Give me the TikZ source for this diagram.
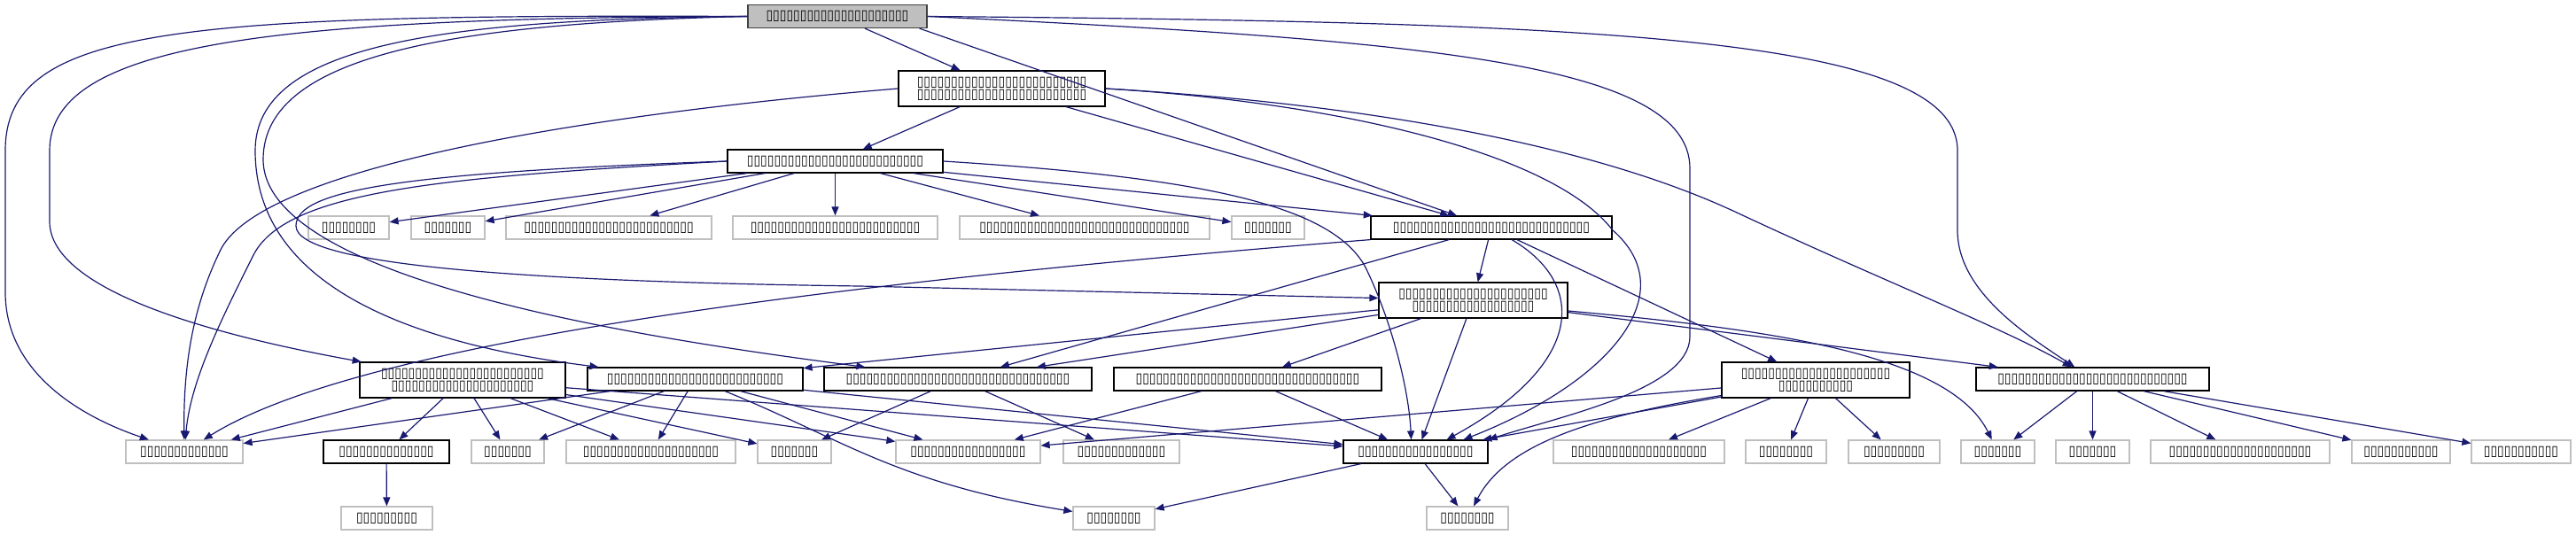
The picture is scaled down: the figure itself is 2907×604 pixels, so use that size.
\documentclass[tikz,border=0pt]{standalone}
\usepackage{fontspec}
\usepackage{tikz}
\usetikzlibrary{arrows.meta, calc}
\newfontfamily\tofufont[FakeStretch=0.87]{DejaVu Sans}
\definecolor{edgeBlue}{RGB}{25,25,112}
\definecolor{boxGrey}{RGB}{191,191,191}
\definecolor{rootLine}{RGB}{64,64,64}
\begin{document}
\begin{tikzpicture}[x=0.5pt, y=-0.5pt,
    file/.style={rectangle, draw, line width=0.6pt, inner sep=0pt, minimum height=13pt, align=center, font=\fontsize{8}{7}\tofufont},
    doc/.style={file, draw=black, fill=white},
    sys/.style={file, draw=boxGrey, fill=white},
    top/.style={file, draw=rootLine, fill=boxGrey},
    tall/.style={minimum height=20pt},
    arrow/.style={-{Triangle[length=5pt, width=4pt]}, draw=edgeBlue, line width=0.6pt}
]
    \useasboundingbox (0,0) rectangle (2907,604);

    % Top file
    \node[top, minimum width=101pt] (main) at (945,18.5) {▯▯▯▯▯▯▯▯▯▯▯▯▯▯▯▯▯▯▯▯▯};

    % Second level
    \node[doc, tall, minimum width=116.5pt] (n2) at (1130.5,100) {▯▯▯▯▯▯▯▯▯▯▯▯▯▯▯▯▯▯▯▯▯▯▯▯▯\\▯▯▯▯▯▯▯▯▯▯▯▯▯▯▯▯▯▯▯▯▯▯▯▯▯};
    \node[doc, minimum width=121.5pt] (n3) at (942.5,182) {▯▯▯▯▯▯▯▯▯▯▯▯▯▯▯▯▯▯▯▯▯▯▯▯▯▯};

    % Third level
    \node[sys, minimum width=45.5pt] (a1) at (393.5,257) {▯▯▯▯▯▯▯▯};
    \node[sys, minimum width=41.5pt] (a2) at (505.5,257) {▯▯▯▯▯▯▯};
    \node[sys, minimum width=116pt] (a3) at (687,257) {▯▯▯▯▯▯▯▯▯▯▯▯▯▯▯▯▯▯▯▯▯▯▯▯▯};
    \node[sys, minimum width=115.5pt] (a4) at (942.5,257) {▯▯▯▯▯▯▯▯▯▯▯▯▯▯▯▯▯▯▯▯▯▯▯▯▯};
    \node[sys, minimum width=141pt] (a5) at (1224,257) {▯▯▯▯▯▯▯▯▯▯▯▯▯▯▯▯▯▯▯▯▯▯▯▯▯▯▯▯▯▯▯};
    \node[sys, minimum width=41pt] (a6) at (1431,257) {▯▯▯▯▯▯▯};
    \node[doc, minimum width=136pt] (util) at (1683,257) {▯▯▯▯▯▯▯▯▯▯▯▯▯▯▯▯▯▯▯▯▯▯▯▯▯▯▯▯▯};
    \node[doc, tall, minimum width=106.5pt] (types) at (1662.5,339) {▯▯▯▯▯▯▯▯▯▯▯▯▯▯▯▯▯▯▯▯▯▯\\▯▯▯▯▯▯▯▯▯▯▯▯▯▯▯▯▯▯};

    % Fourth level
    \node[doc, tall, minimum width=116pt] (n9) at (522,429) {▯▯▯▯▯▯▯▯▯▯▯▯▯▯▯▯▯▯▯▯▯▯▯▯\\▯▯▯▯▯▯▯▯▯▯▯▯▯▯▯▯▯▯▯▯▯};
    \node[doc, minimum width=121.5pt] (n6) at (784.5,428) {▯▯▯▯▯▯▯▯▯▯▯▯▯▯▯▯▯▯▯▯▯▯▯▯▯▯};
    \node[doc, minimum width=151pt] (n7) at (1081,428) {▯▯▯▯▯▯▯▯▯▯▯▯▯▯▯▯▯▯▯▯▯▯▯▯▯▯▯▯▯▯▯▯▯};
    \node[doc, minimum width=151pt] (n8) at (1408,428) {▯▯▯▯▯▯▯▯▯▯▯▯▯▯▯▯▯▯▯▯▯▯▯▯▯▯▯▯▯▯▯▯▯};
    \node[doc, tall, minimum width=106pt] (n10) at (2049,429) {▯▯▯▯▯▯▯▯▯▯▯▯▯▯▯▯▯▯▯▯▯▯\\▯▯▯▯▯▯▯▯▯▯▯};
    \node[doc, minimum width=131.5pt] (n11) at (2361.5,428) {▯▯▯▯▯▯▯▯▯▯▯▯▯▯▯▯▯▯▯▯▯▯▯▯▯▯▯▯};

    % Fifth level
    \node[sys, minimum width=66pt] (b1) at (208,510) {▯▯▯▯▯▯▯▯▯▯▯▯▯};
    \node[doc, minimum width=71pt] (n12) at (436,510) {▯▯▯▯▯▯▯▯▯▯▯▯▯▯};
    \node[sys, minimum width=41pt] (b2) at (573,510) {▯▯▯▯▯▯▯};
    \node[sys, minimum width=95.5pt] (b3) at (734.5,510) {▯▯▯▯▯▯▯▯▯▯▯▯▯▯▯▯▯▯▯▯};
    \node[sys, minimum width=41.5pt] (b4) at (896.5,510) {▯▯▯▯▯▯▯};
    \node[sys, minimum width=81.5pt] (b5) at (1092.5,510) {▯▯▯▯▯▯▯▯▯▯▯▯▯▯▯▯▯};
    \node[sys, minimum width=65.5pt] (b6) at (1265.5,510) {▯▯▯▯▯▯▯▯▯▯▯▯▯};
    \node[doc, minimum width=81.5pt] (n13) at (1597.5,510) {▯▯▯▯▯▯▯▯▯▯▯▯▯▯▯▯▯};
    \node[sys, minimum width=96.5pt] (b7) at (1849.5,510) {▯▯▯▯▯▯▯▯▯▯▯▯▯▯▯▯▯▯▯▯};
    \node[sys, minimum width=45.5pt] (b10) at (2015.5,510) {▯▯▯▯▯▯▯▯};
    \node[sys, minimum width=51.5pt] (b11) at (2137.5,510) {▯▯▯▯▯▯▯▯▯};
    \node[sys, minimum width=41.5pt] (b12) at (2254.5,510) {▯▯▯▯▯▯▯};
    \node[sys, minimum width=41.5pt] (b14) at (2361.5,510) {▯▯▯▯▯▯▯};
    \node[sys, minimum width=101pt] (b15) at (2528,510) {▯▯▯▯▯▯▯▯▯▯▯▯▯▯▯▯▯▯▯▯▯};
    \node[sys, minimum width=55.5pt] (b16) at (2709.5,510) {▯▯▯▯▯▯▯▯▯▯▯};
    \node[sys, minimum width=56pt] (b17) at (2845,510) {▯▯▯▯▯▯▯▯▯▯▯};

    % Bottom level
    \node[sys, minimum width=51.5pt] (b13) at (436.5,585) {▯▯▯▯▯▯▯▯▯};
    \node[sys, minimum width=46pt] (b8) at (1257,585) {▯▯▯▯▯▯▯▯};
    \node[sys, minimum width=46pt] (b9) at (1656,585) {▯▯▯▯▯▯▯▯};

    % Arrows - top file
    \draw[arrow] (main) -- (n2);
    \draw[arrow] ($(main.south east)+(-9,0)$) -- (util);
    \draw[arrow] (main.west) .. controls (200,16) and (6,30) .. (6,170) -- (6,330) .. controls (6,420) and (90,470) .. (b1);
    \draw[arrow] (main.west) .. controls (300,20) and (56,50) .. (56,170) -- (56,250) .. controls (56,330) and (250,380) .. (n9);
    \draw[arrow] (main.west) .. controls (500,22) and (288,50) .. (288,170) .. controls (288,330) and (480,390) .. (n6);
    \draw[arrow] (main.west) .. controls (520,26) and (297,60) .. (297,180) .. controls (297,320) and (750,385) .. (n7);
    \draw[arrow] (main.east) .. controls (1800,25) and (2209,40) .. (2209,170) -- (2209,260) .. controls (2209,330) and (2290,380) .. (n11);
    \draw[arrow] (main.east) .. controls (1600,45) and (1907,70) .. (1907,190) -- (1907,380) .. controls (1907,440) and (1760,470) .. (n13.north east);

    % Arrows - second level
    \draw[arrow] (n2) -- (n3);
    \draw[arrow] (n2) -- (util);
    \draw[arrow] (n2.west) .. controls (650,130) and (300,190) .. (250,280) .. controls (215,350) and (207,420) .. (b1);
    \draw[arrow] (n2.east) .. controls (1550,118) and (1800,165) .. (1960,240) .. controls (2120,315) and (2260,370) .. (n11);
    \draw[arrow] (n2.east) .. controls (1500,115) and (1750,170) .. (1820,260) .. controls (1900,330) and (1820,430) .. ($(n13.north)+(54,0)$);
    \draw[arrow] (n3) -- (a1);
    \draw[arrow] (n3) -- (a2);
    \draw[arrow] (n3) -- (a3);
    \draw[arrow] (n3) -- (a4);
    \draw[arrow] (n3) -- (a5);
    \draw[arrow] (n3) -- (a6);
    \draw[arrow] (n3) -- (util);
    \draw[arrow] (n3.west) .. controls (450,195) and (334,215) .. (334,255) .. controls (334,300) and (600,318) .. (970,323) -- (types);
    \draw[arrow] (n3.west) .. controls (500,200) and (320,215) .. (285,290) .. controls (250,360) and (215,430) .. (b1);
    \draw[arrow] (n3.east) .. controls (1350,200) and (1500,230) .. (1540,300) .. controls (1570,360) and (1590,440) .. ($(n13.north)+(-5,0)$);

    % Arrows - third level
    \draw[arrow] (util) -- (types);
    \draw[arrow] (util) -- (n7);
    \draw[arrow] (util) -- (n10);
    \draw[arrow] (util.south west) .. controls (900,322) and (400,390) .. (b1);
    \draw[arrow] (util) .. controls (1790,320) and (1790,410) .. ($(n13.north)+(35,0)$);
    \draw[arrow] (types) -- (n6);
    \draw[arrow] (types) -- (n7);
    \draw[arrow] (types) -- (n8);
    \draw[arrow] (types) -- ($(n13.north)+(7,0)$);
    \draw[arrow] (types) -- (n11);
    \draw[arrow] ($(types.east)+(0,12)$) .. controls (2000,372) and (2200,400) .. (b12);

    % Arrows - fourth level
    \draw[arrow] (n9) -- (b1);
    \draw[arrow] (n9) -- (n12);
    \draw[arrow] (n9) -- (b2);
    \draw[arrow] (n9) -- (b3);
    \draw[arrow] (n9) -- (b4);
    \draw[arrow] (n9) -- (b5);
    \draw[arrow] (n9) -- (n13);
    \draw[arrow] (n6) -- (b1);
    \draw[arrow] (n6) -- (b2);
    \draw[arrow] (n6) -- (b3);
    \draw[arrow] (n6) -- (b5);
    \draw[arrow] (n6) -- (n13);
    \draw[arrow] (n6) .. controls (950,495) and (1010,545) .. (b8);
    \draw[arrow] (n7) -- (b4);
    \draw[arrow] (n7) -- (b6);
    \draw[arrow] (n8) -- (b5);
    \draw[arrow] (n8) -- (n13);
    \draw[arrow] (n10) -- (b5);
    \draw[arrow] (n10) -- (n13);
    \draw[arrow] (n10) .. controls (1800,470) and (1700,500) .. (b9);
    \draw[arrow] (n10) -- (b7);
    \draw[arrow] (n10) -- (b10);
    \draw[arrow] (n10) -- (b11);
    \draw[arrow] (n11) -- (b12);
    \draw[arrow] (n11) -- (b14);
    \draw[arrow] (n11) -- (b15);
    \draw[arrow] (n11) -- (b16);
    \draw[arrow] (n11) -- (b17);

    % Arrows - fifth level
    \draw[arrow] (n12) -- (b13);
    \draw[arrow] (n13) -- (b8);
    \draw[arrow] (n13) -- (b9);
\end{tikzpicture}
\end{document}
